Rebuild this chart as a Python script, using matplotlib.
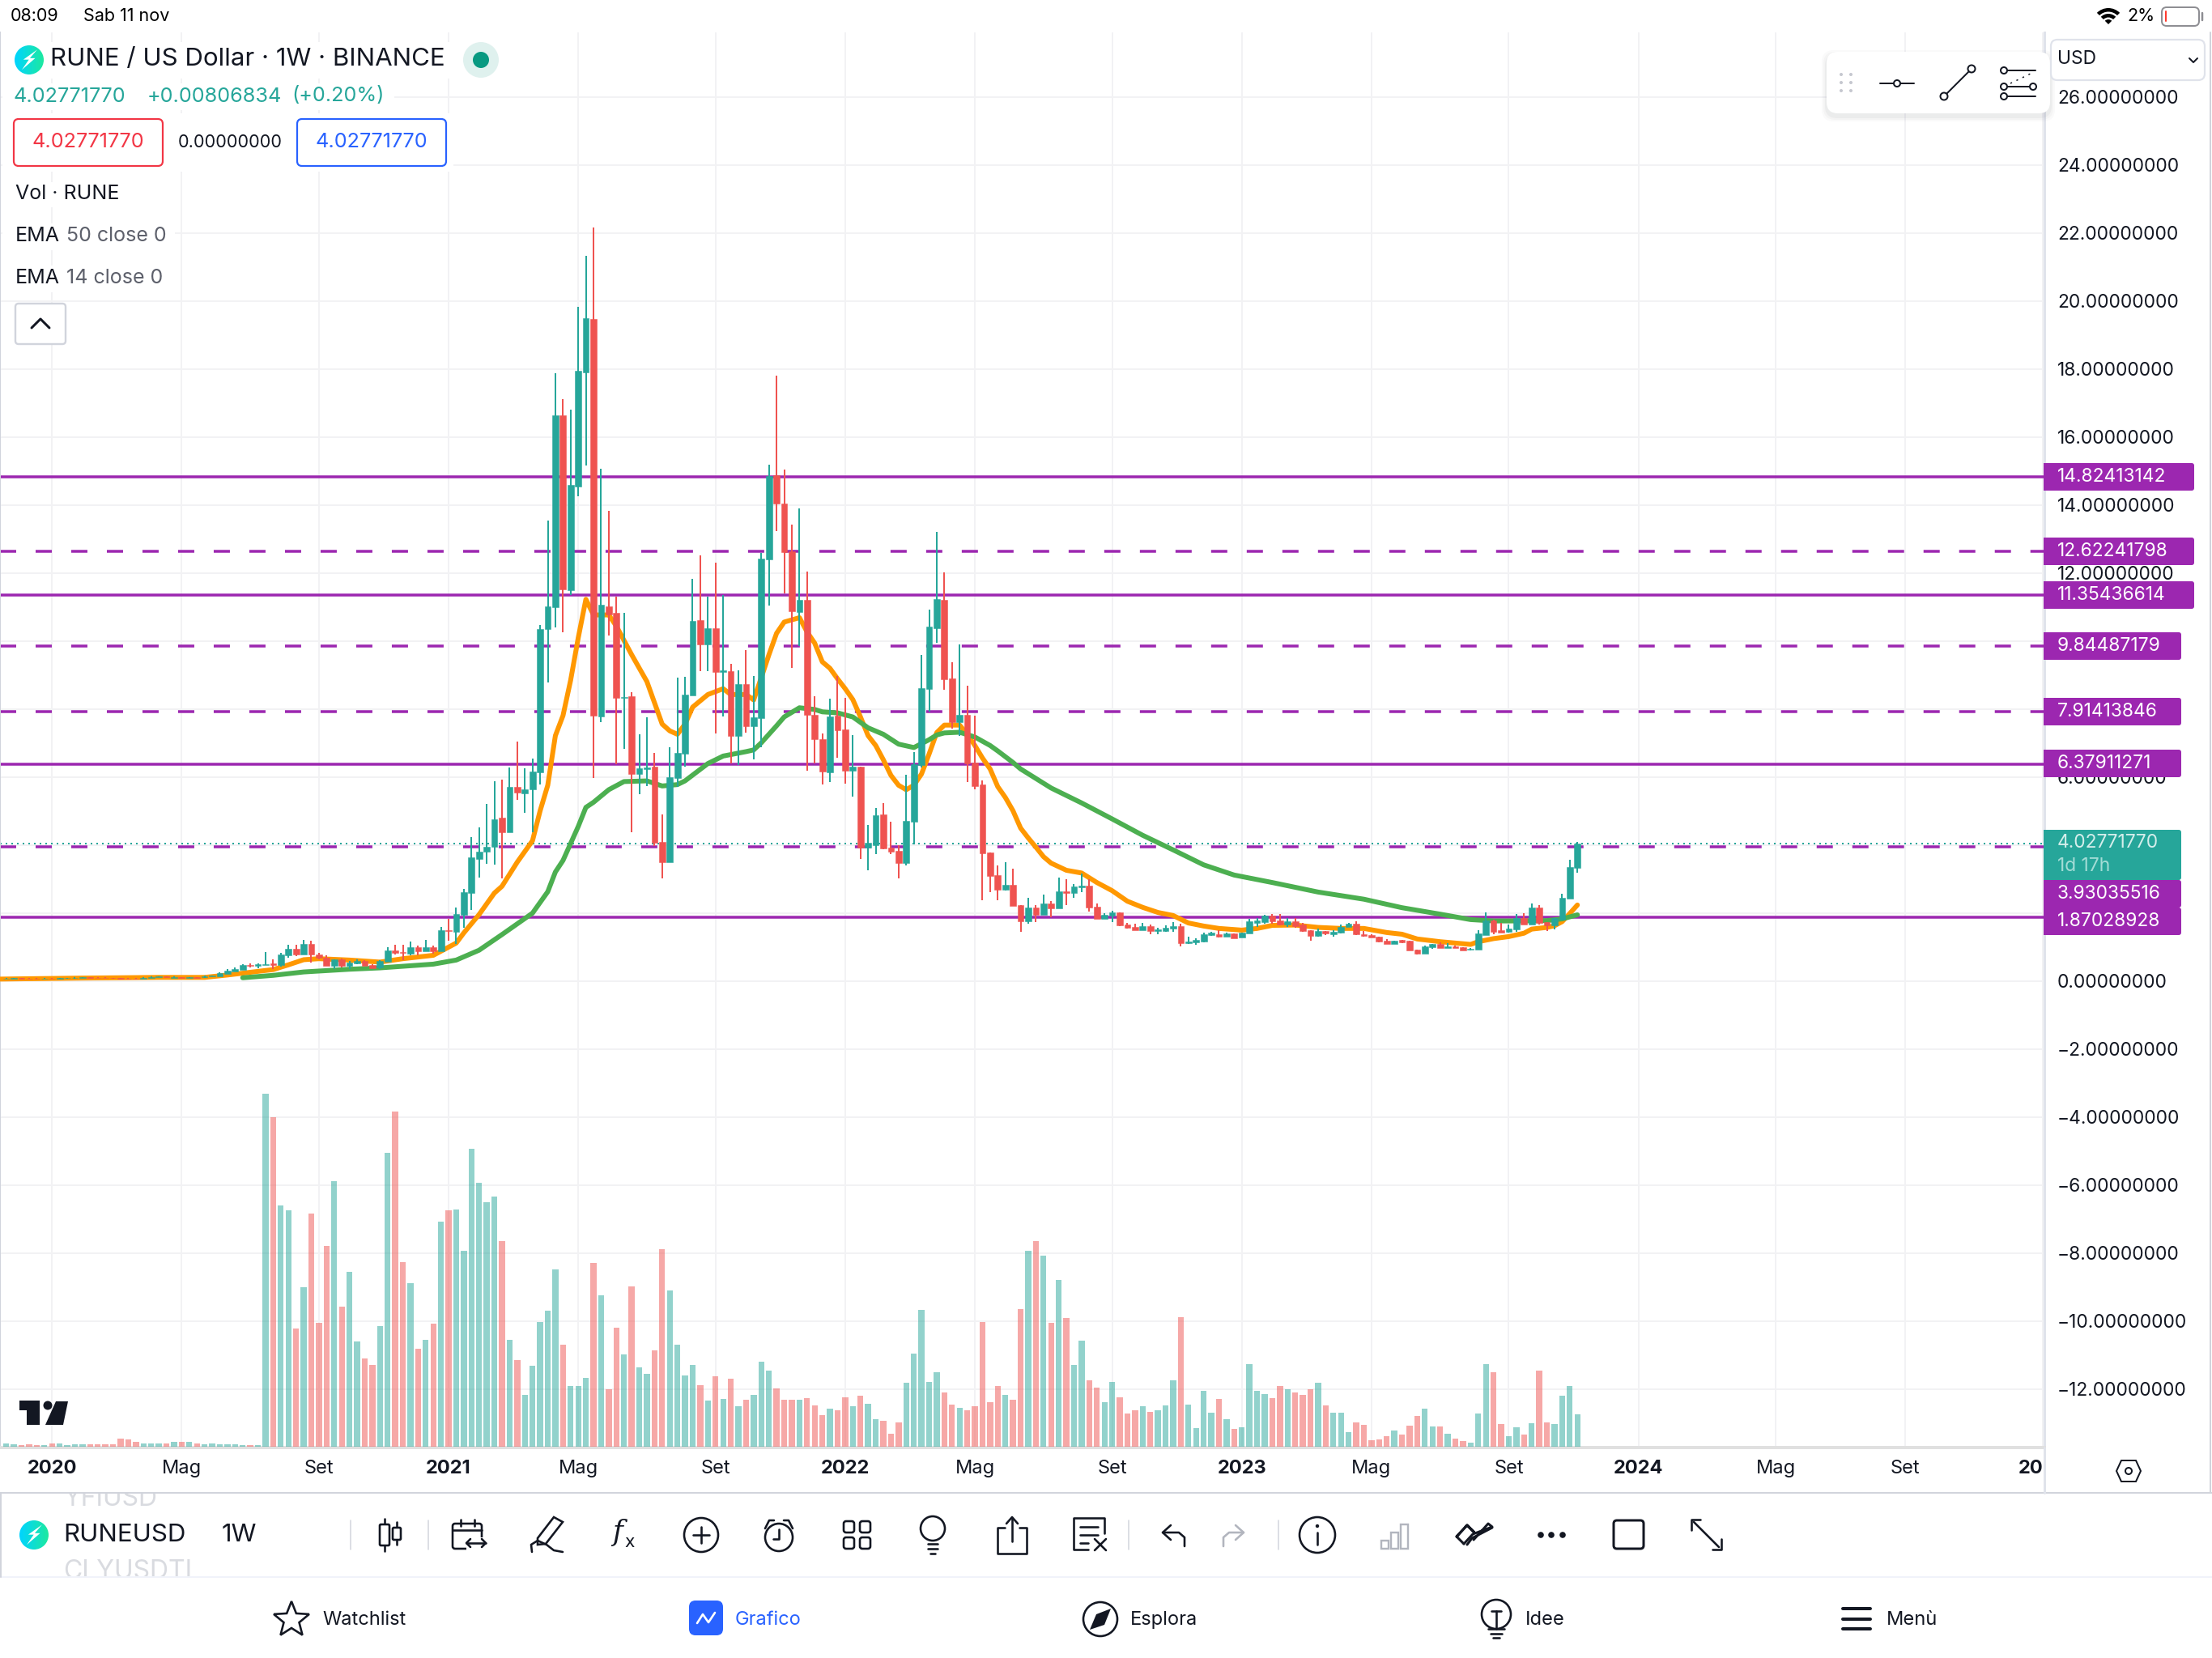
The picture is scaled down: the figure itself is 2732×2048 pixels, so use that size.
import numpy as np
import matplotlib
matplotlib.use('Agg')
import matplotlib.pyplot as plt
from matplotlib.patches import Circle, FancyBboxPatch, Polygon, Rectangle, Wedge, Arc

plt.rcParams['font.family'] = ['Inter', 'DejaVu Sans']

W, H = 2732, 2048

# weekly candles, one row = 10 weeks
opens = [.06,.07,.08,.07,.065,.06,.07,.065,.075,.08,
         .09,.10,.095,.09,.085,.08,.07,.065,.06,.09,
         .11,.12,.08,.11,.08,.11,.10,.13,.14,.21,
         .27,.33,.47,.45,.47,.51,.46,.75,.94,.77,
         1.08,.77,.69,.45,.63,.44,.51,.58,.46,.39,
         .56,.89,.85,.80,.99,.87,.99,.87,1.49,1.44,
         1.94,2.59,3.59,3.79,3.95,4.79,4.36,5.71,5.52,5.62,
         6.14,10.35,10.99,16.63,11.49,14.54,17.89,19.46,7.77,11.01,
         10.82,8.32,8.37,6.08,6.23,6.30,4.08,3.49,5.96,6.68,
         8.39,10.61,9.89,10.37,9.09,9.11,7.20,8.73,7.49,7.73,
         12.39,14.87,14.04,12.63,10.85,11.20,7.82,7.11,6.13,7.80,
         7.39,6.18,6.30,3.92,3.99,4.89,3.92,3.82,3.46,4.68,
         6.35,8.58,10.37,11.20,8.89,7.61,7.82,6.42,5.77,3.77,
         3.11,2.68,2.82,2.23,1.75,2.15,1.94,2.27,2.13,2.63,
         2.58,2.75,2.80,2.18,1.82,1.92,2.01,1.65,1.58,1.49,
         1.61,1.46,1.46,1.54,1.61,1.11,1.13,1.15,1.35,1.37,
         1.30,1.39,1.27,1.39,1.70,1.73,1.92,1.77,1.65,1.75,
         1.65,1.49,1.32,1.46,1.37,1.42,1.58,1.68,1.37,1.34,
         1.30,1.18,1.08,1.20,1.18,.92,.80,.99,1.08,.96,
         1.01,.99,.92,.92,1.35,1.77,1.49,1.44,1.51,1.85,
         1.65,2.15,1.73,1.63,1.80,2.42,3.32]
closes = [.07,.08,.07,.065,.06,.07,.065,.075,.08,.09,
          .10,.095,.09,.085,.08,.07,.065,.06,.09,.11,
          .12,.11,.11,.09,.11,.09,.14,.15,.23,.30,
          .35,.46,.44,.49,.50,.47,.77,.94,.77,1.08,
          .77,.68,.45,.63,.45,.54,.58,.45,.38,.58,
          .89,.82,.81,.99,.87,.99,.87,1.49,1.46,1.96,
          2.61,3.64,3.79,3.95,4.76,4.36,5.71,5.54,5.63,6.16,
          10.35,11.01,16.63,11.51,14.58,17.94,19.49,7.80,11.06,10.77,
          8.32,8.35,6.08,6.25,6.27,4.06,3.49,5.99,6.70,8.42,
          10.58,9.89,10.37,9.08,9.12,7.20,8.73,7.49,7.75,12.42,
          14.85,14.04,12.61,10.87,11.20,7.82,7.11,6.15,7.77,7.37,
          6.18,6.30,3.92,4.06,4.87,3.89,3.80,3.46,4.70,6.37,
          8.61,10.42,11.23,8.87,7.61,7.82,6.39,5.73,3.75,3.08,
          2.68,2.82,2.20,1.75,2.15,1.94,2.27,2.13,2.63,2.58,
          2.77,2.80,2.15,1.82,1.94,2.01,1.63,1.56,1.49,1.61,
          1.46,1.51,1.56,1.61,1.11,1.15,1.20,1.37,1.42,1.30,
          1.39,1.25,1.42,1.75,1.77,1.92,1.75,1.65,1.75,1.61,
          1.46,1.32,1.46,1.39,1.44,1.58,1.68,1.37,1.32,1.27,
          1.15,1.08,1.18,1.13,.89,.80,1.01,1.08,.96,1.01,
          .96,.89,.94,1.39,1.77,1.44,1.42,1.54,1.85,1.65,
          2.15,1.70,1.63,1.85,2.44,3.35,4.0277]
highs = [.08,.09,.09,.08,.075,.08,.08,.085,.09,.10,
         .11,.11,.105,.10,.095,.09,.08,.075,.10,.12,
         .13,.12,.12,.11,.11,.11,.15,.16,.24,.35,
         .39,.49,.52,.51,.85,.63,.82,1.06,1.06,1.20,
         1.18,.82,.74,.63,.66,.58,.63,.61,.49,.61,
         .99,1.06,1.06,1.15,1.04,1.20,1.04,1.58,1.82,2.15,
         2.70,4.23,4.51,5.21,5.88,5.92,6.28,7.04,6.25,6.54,
         10.47,13.54,17.87,17.11,16.80,19.82,21.32,22.15,15.06,13.82,
         11.30,10.82,8.49,7.25,7.75,6.70,4.89,6.87,8.92,8.94,
         11.82,12.51,11.30,12.30,11.35,9.32,9.13,9.73,8.96,12.58,
         15.18,17.80,15.04,13.42,13.89,12.04,8.37,7.27,8.30,8.96,
         8.32,7.23,6.30,4.58,5.08,5.23,4.68,3.99,6.06,6.73,
         9.58,10.92,13.20,12.01,9.37,9.89,8.68,7.80,5.89,3.77,
         3.39,3.49,3.30,2.23,2.44,2.23,2.54,2.35,3.04,2.99,
         2.85,3.15,2.99,2.27,1.99,2.06,2.01,1.70,1.68,1.70,
         1.65,1.56,1.63,1.73,1.68,1.30,1.25,1.42,1.44,1.49,
         1.42,1.39,1.42,1.82,1.85,1.94,1.96,1.96,1.85,1.85,
         1.70,1.49,1.54,1.46,1.49,1.65,1.70,1.75,1.46,1.37,
         1.30,1.23,1.18,1.20,1.18,.92,1.04,1.08,1.13,1.11,
         1.04,.99,.96,1.49,2.01,1.80,1.70,1.65,1.96,1.99,
         2.27,2.23,1.73,1.85,2.56,3.56,4.08]
lows = [.05,.06,.06,.055,.05,.05,.055,.055,.065,.07,
        .08,.085,.08,.075,.07,.06,.055,.05,.05,.08,
        .10,.10,.08,.08,.08,.08,.09,.13,.14,.20,
        .27,.33,.39,.38,.47,.35,.42,.68,.73,.77,
        .54,.63,.45,.35,.39,.35,.49,.44,.37,.35,
        .56,.78,.61,.75,.75,.87,.80,.87,1.18,1.08,
        1.56,2.09,3.04,3.45,3.41,3.01,4.36,5.31,4.95,4.37,
        5.78,8.78,10.39,10.25,11.35,14.25,15.15,5.96,7.61,10.15,
        6.37,6.82,4.37,5.49,5.73,3.96,3.01,3.49,5.70,6.30,
        8.39,9.11,9.11,7.27,7.77,6.39,6.35,7.30,6.51,6.87,
        11.04,13.23,11.39,9.20,9.85,6.17,6.39,5.77,5.85,6.56,
        5.80,5.42,3.58,3.25,3.73,3.87,3.73,3.01,3.39,4.01,
        6.27,7.92,9.94,8.56,7.42,7.20,5.85,5.63,2.37,2.61,
        2.37,2.65,2.20,1.44,1.68,1.73,1.94,1.87,2.13,2.23,
        2.44,2.61,2.04,1.82,1.82,1.73,1.61,1.54,1.49,1.49,
        1.37,1.37,1.44,1.44,1.01,1.08,1.06,1.13,1.32,1.27,
        1.30,1.25,1.27,1.39,1.58,1.68,1.68,1.63,1.58,1.56,
        1.44,1.18,1.30,1.34,1.30,1.39,1.58,1.34,1.30,1.27,
        1.13,1.08,1.08,1.11,.89,.77,.80,.94,.96,.96,
        .96,.89,.89,.92,1.35,1.37,1.42,1.42,1.44,1.65,
        1.65,1.65,1.46,1.51,1.80,2.42,3.18]
# volume pane, arbitrary units (the axis has no scale in the screenshot)
volumes = [4,3,2,3,2,2,4,4,2,3,
           3,3,3,3,3,10,9,6,4,4,
           4,4,6,6,6,4,3,4,3,3,
           3,2,2,2,436,407,298,292,146,197,
           288,153,248,328,173,216,130,109,101,149,
           363,414,228,202,121,132,152,278,292,293,
           242,368,326,302,309,254,132,107,64,100,
           154,168,219,126,75,75,85,227,187,71,
           147,114,198,98,90,119,244,193,126,88,
           101,76,57,87,59,84,50,58,64,105,
           94,72,58,58,58,60,51,39,47,45,
           61,50,63,53,34,32,16,30,79,115,
           169,80,92,67,52,48,45,50,154,55,
           75,64,58,170,242,254,236,153,206,159,
           101,131,82,73,55,80,61,41,45,50,
           43,45,51,82,160,52,23,69,42,59,
           34,22,24,102,69,65,60,75,71,67,
           64,71,79,51,42,42,18,30,27,8,
           9,13,20,15,26,38,47,25,25,16,
           10,7,5,41,102,92,28,13,24,15,
           29,94,30,28,63,75,40]

ema14_idx = [-1,10,20,26,29,35,37,39,41,45,49,52,56,59,60,62,64,65,67,69,70,71,72,73,74,75,76,77,78,79,80,81,82,84,86,87,88,89,90,92,94,95,97,98,99,100,101,102,104,105,106,107,108,109,110,111,112,113,114,115,116,117,118,119,120,121,122,123,125,126,127,128,129,130,131,132,133,134,135,136,137,139,141,143,145,147,149,151,153,155,157,159,162,164,166,169,172,175,178,181,183,185,188,192,193,195,197,199,200,202,203,204,205,206]
ema14_val = [.05,.08,.10,.10,.17,.33,.47,.62,.65,.61,.55,.65,.75,1.11,1.41,1.95,2.58,2.78,3.49,4.12,5.00,5.75,7.21,7.80,8.84,10.09,11.22,10.76,10.76,10.76,10.43,10.01,9.59,8.80,7.55,7.35,7.25,7.55,8.05,8.42,8.59,8.42,8.42,8.26,8.92,9.59,10.22,10.55,10.68,10.26,9.93,9.38,9.19,8.88,8.59,8.27,7.76,7.21,6.92,6.50,6.04,5.75,5.62,5.75,6.08,6.67,7.30,7.52,7.52,7.25,6.92,6.55,6.23,5.71,5.39,5.00,4.49,4.20,3.93,3.65,3.46,3.25,3.17,2.89,2.65,2.34,2.16,2.01,1.92,1.70,1.61,1.54,1.49,1.54,1.63,1.64,1.57,1.54,1.54,1.42,1.37,1.23,1.15,1.07,1.15,1.24,1.30,1.40,1.52,1.57,1.62,1.74,1.98,2.23]
ema50_idx = [31,35,39,45,49,56,59,62,65,69,71,72,73,74,75,76,77,79,81,84,86,88,89,92,94,97,98,99,101,102,104,106,107,109,111,113,115,117,119,121,122,123,125,127,129,130,132,133,137,141,145,149,153,157,161,166,172,178,183,188,192,195,199,202,204,206]
ema50_val = [.09,.16,.26,.34,.38,.49,.61,.90,1.36,1.99,2.62,3.20,3.54,4.04,4.54,5.10,5.25,5.62,5.86,5.88,5.73,5.77,5.88,6.39,6.61,6.74,6.79,7.00,7.50,7.76,8.03,7.98,7.91,7.88,7.76,7.44,7.25,6.96,6.86,7.09,7.23,7.29,7.31,7.17,6.92,6.76,6.42,6.23,5.67,5.23,4.76,4.28,3.85,3.41,3.11,2.89,2.61,2.40,2.15,1.96,1.80,1.76,1.76,1.77,1.82,1.94]

solid_levels = [14.82413142, 11.35436614, 6.37911271, 1.87028928]
dashed_levels = [12.62241798, 9.84487179, 7.91413846, 3.93035516]
last_price = 4.02771770

price_ticks = list(range(-12, 28, 2))
# bars that hold the first of the month
time_ticks = [6,23,41,58,75,93,110,127,145,162,179,197,214,232,249,267]
time_labels = ['2020','Mag','Set','2021','Mag','Set','2022','Mag','Set','2023','Mag','Set','2024','Mag','Set','2025']

GREEN = '#26a69a'
RED = '#ef5350'
PURPLE = '#9c27b0'
INK = '#131722'
GRID = '#f2f2f4'

x = np.arange(len(closes))
o = np.array(opens)
c = np.array(closes)
up = c >= o
colors = [GREEN if u else RED for u in up]

fig = plt.figure(figsize=(W / 100, H / 100), dpi=100, facecolor='white')

px = 0.72  # points per pixel at dpi 100
plot_top, plot_bottom, plot_right = 40, 1788, 2525
pos = [0, (H - plot_bottom) / H, plot_right / W, (plot_bottom - plot_top) / H]

ax = fig.add_axes(pos, zorder=1)
ax.set_xlim(-7.7 / 9.42, (plot_right - 7.7) / 9.42)
ax.set_ylim((1211.5 - plot_bottom) / 42, (1211.5 - plot_top) / 42)
ax.set_axisbelow(True)
ax.grid(True, color=GRID, lw=2 * px)
for s in ['top']:
    ax.spines[s].set_visible(False)
ax.spines['right'].set_color('#e0e3eb')
ax.spines['right'].set_linewidth(3 * px)
ax.spines['bottom'].set_color('#e0e0e0')
ax.spines['bottom'].set_linewidth(4 * px)
ax.spines['left'].set_color('#d1d4dc')
ax.spines['left'].set_linewidth(2 * px)

ax.yaxis.tick_right()
ax.set_yticks(price_ticks)
ax.set_yticklabels([f'{v:.8f}'.replace('-', '\u2212') for v in price_ticks], fontsize=16.4, color=INK)
ax.tick_params(axis='y', length=0, pad=11.5)
ax.set_xticks(time_ticks)
ax.set_xticklabels(time_labels, fontsize=17, color=INK)
ax.tick_params(axis='x', length=0, pad=11)
for lab, name in zip(ax.get_xticklabels(), time_labels):
    if name.isdigit():
        lab.set_fontweight('bold')

for v in solid_levels:
    ax.axhline(v, color=PURPLE, lw=3.5 * px, zorder=2)
for v in dashed_levels:
    ax.axhline(v, color=PURPLE, lw=3.5 * px, zorder=2, linestyle=(0, (5.71, 6.86)))
ax.axhline(last_price, color=GREEN, lw=2 * px, zorder=2.2, linestyle=(0, (1, 2.5)))

ax.plot(ema14_idx, ema14_val, color='#ff9800', lw=6 * px, zorder=3, solid_joinstyle='round', solid_capstyle='round')
ax.plot(ema50_idx, ema50_val, color='#4caf50', lw=6 * px, zorder=3.1, solid_joinstyle='round', solid_capstyle='round')

ax.vlines(x, lows, highs, colors=colors, lw=2 * px, zorder=4)
ax.bar(x, np.abs(c - o), bottom=np.minimum(o, c), width=0.82, color=colors, edgecolor=colors, lw=0.5 * px, zorder=4.1)

axv = fig.add_axes(pos, sharex=ax, zorder=2)
axv.patch.set_alpha(0)
axv.bar(x, volumes, width=0.78, color=colors, alpha=0.5, lw=0)
axv.set_ylim(-1, plot_bottom - plot_top - 1)
axv.axis('off')

# everything below is the app around the chart, in screen pixels
ui = fig.add_axes([0, 0, 1, 1], zorder=10)
ui.patch.set_alpha(0)
ui.axis('off')


def txt(xp, yp, s, size=16.4, color=INK, weight='normal', ha='left', z=6, **kw):
    return ui.text(xp, yp, s, fontsize=size, color=color, fontweight=weight, ha=ha, va='center', zorder=z, **kw)


def rrect(x0, y0, x1, y1, r, fc='white', ec='none', lw=0, z=3, **kw):
    p = FancyBboxPatch((x0, y0), x1 - x0, y1 - y0, boxstyle=f'round,pad=0,rounding_size={r}',
                       fc=fc, ec=ec, lw=lw * px, zorder=z, **kw)
    ui.add_patch(p)
    return p


def rect(x0, y0, x1, y1, fc='white', z=2):
    ui.add_patch(Rectangle((x0, y0), x1 - x0, y1 - y0, fc=fc, ec='none', zorder=z))


def ln(xs, ys, color=INK, lw=2.6, z=6, **kw):
    ui.plot(xs, ys, color=color, lw=lw * px, zorder=z, solid_capstyle='round', solid_joinstyle='round', **kw)


def ring(cx, cy, r, color=INK, lw=2.6, fc='white', z=6):
    ui.add_patch(Circle((cx, cy), r, fc=fc, ec=color, lw=lw * px, zorder=z))


def rune_icon(cx, cy, r):
    t = np.linspace(0, 1, 48)[None, :, None]
    a = np.array([0, 212, 255])[None, None, :] / 255
    b = np.array([29, 233, 160])[None, None, :] / 255
    img = a * (1 - t) + b * t
    im = ui.imshow(img, extent=(cx - r, cx + r, cy + r, cy - r), zorder=5, aspect='auto')
    im.set_clip_path(Circle((cx, cy), r, transform=ui.transData))
    bolt = [(.55, -.7), (-.4, -.02), (-.02, -.02), (-.5, .68), (.42, -.12), (.05, -.12)]
    ui.add_patch(Polygon([(cx + i * r, cy + j * r) for i, j in bolt], fc='white', ec='none', zorder=6))


# status bar
txt(13, 20, '08:09', 15.5, 'black')
txt(103, 20, 'Sab 11 nov', 15.5, 'black')
txt(2627, 20, '2%', 15.5, 'black')
ui.add_patch(Wedge((2604, 30), 20, 225, 315, width=4.5, fc='black', ec='none'))
ui.add_patch(Wedge((2604, 30), 13, 225, 315, width=4.5, fc='black', ec='none'))
ui.add_patch(Wedge((2604, 30), 6, 225, 315, fc='black', ec='none'))
rrect(2670, 9, 2716, 32, 6, ec='#8e8e93', lw=2)
ln([2674.5, 2674.5], [14, 26], '#ff3b30', 2)
ln([2719.5, 2719.5], [16, 25], '#8e8e93', 2.5)

# legend, each row has a white backing that breaks the grid
for box in [(3, 52, 620, 97), (3, 103, 487, 136), (3, 140, 560, 212), (3, 225, 150, 256), (3, 276, 216, 309), (3, 328, 216, 361)]:
    rect(*box)
rune_icon(36, 74, 18)
txt(62, 73, 'RUNE / US Dollar \u00b7 1W \u00b7 BINANCE', 22.5)
ui.add_patch(Circle((594, 74), 22, fc='#dff1ee', ec='none', zorder=5))
ui.add_patch(Circle((594, 74), 10, fc='#089981', ec='none', zorder=6))
txt(17, 119, f'{last_price:.8f}', 18.2, GREEN)
txt(182, 119, '+0.00806834', 18.2, GREEN)
txt(360, 119, '(+0.20%)', 18.2, GREEN)
rrect(17, 147, 201, 205, 6, ec='#f23645', lw=2.2)
txt(109, 176, f'{last_price:.8f}', 18.2, '#f23645', ha='center')
txt(284, 176, '0.00000000', 15.6, INK, ha='center')
rrect(367, 147, 551, 205, 6, ec='#2962ff', lw=2.2)
txt(459, 176, f'{last_price:.8f}', 18.2, '#2962ff', ha='center')
txt(19, 240, 'Vol \u00b7 RUNE', 18)
txt(19, 292, 'EMA', 18)
txt(82, 292, '50 close 0', 18, '#5d606b')
txt(19, 344, 'EMA', 18)
txt(82, 344, '14 close 0', 18, '#5d606b')
rrect(19, 375, 81, 425, 4, ec='#d1d4dc', lw=2.4)
ln([39, 50, 61], [405, 394, 405], INK, 3)

# drawing tools panel
for k, a in [(6, .03), (4, .04), (2, .06)]:
    rrect(2256 - k, 64 + 4 - k, 2532 + k, 140 + 4 + k, 15, fc='#6a6d78', z=2.5, alpha=a)
rrect(2256, 64, 2532, 140, 14, z=3)
for dx in [2274, 2286]:
    for dy in [92, 102, 112]:
        ui.add_patch(Circle((dx, dy), 2, fc='#c5c7cf', ec='none', zorder=6))
ln([2322, 2364], [103, 103], lw=2)
ring(2343, 103, 4, lw=2)
ln([2401, 2435], [119, 85], lw=2)
ring(2401, 119, 4.5, lw=2)
ring(2435, 85, 4.5, lw=2)
ln([2475, 2514], [87, 87], lw=2)
ln([2475, 2511], [107, 107], lw=2)
ln([2475, 2514], [119, 119], lw=2)
ui.plot([2483, 2510], [103, 90], color=INK, lw=1.5 * px, linestyle=(0, (1.5, 4)), zorder=6)
for cx, cy in [(2475, 87), (2475, 107), (2511, 107), (2475, 119)]:
    ring(cx, cy, 4, lw=2)

# currency box
rrect(2533, 49, 2723, 99, 8, ec='#e0e3eb', lw=2.2)
txt(2541, 73, 'USD', 16.4)
ln([2704, 2709, 2714], [72, 77, 72], INK, 2)

# price labels on the scale
big_labels = [(2710, 589, solid_levels[0]), (2710, 681, dashed_levels[0]), (2710, 735, solid_levels[1])]
small_labels = [(2694, 798, dashed_levels[1]), (2694, 879, dashed_levels[2]), (2694, 943, solid_levels[2]),
                (2694, 1104, dashed_levels[3]), (2694, 1138, solid_levels[3])]
for xr, yc, v in big_labels + small_labels:
    rrect(2524, yc - 17, xr, yc + 17, 3, fc=PURPLE, z=4)
    rect(2524, yc - 17, 2530, yc + 17, PURPLE, 4)
    txt(2541, yc, f'{v:.8f}', 16.4, 'white')
rrect(2524, 1025, 2694, 1087, 3, fc=GREEN, z=3.9)
rect(2524, 1025, 2530, 1087, GREEN, 3.9)
txt(2541, 1041, f'{last_price:.8f}', 16.4, '#d4eeeb')
txt(2541, 1070, '1d 17h', 16.4, '#a3dcd6')

# tradingview mark
ui.add_patch(Polygon([(24, 1730), (49, 1730), (49, 1760), (33, 1760), (33, 1742), (24, 1742)], fc=INK, ec='none', zorder=6))
ui.add_patch(Circle((59, 1736), 5.5, fc=INK, ec='none', zorder=6))
ui.add_patch(Polygon([(69, 1731), (84, 1731), (78, 1760), (56, 1760)], fc=INK, ec='none', zorder=6))

# time scale corner
rect(2527, 1790, 2729, 1843, 'white', 1)
ln([2525, 2525], [1788, 1844], '#e0e3eb', 3)
hx = [2614, 2620, 2638, 2644, 2638, 2620]
hy = [1817, 1804, 1804, 1817, 1830, 1830]
ui.add_patch(Polygon(list(zip(hx, hy)), fc='white', ec=INK, lw=2 * px, zorder=6))
ring(2629, 1817, 4, lw=2)

# bars and frame lines
ln([0, W], [1844, 1844], '#d1d4dc', 2, z=5)
ln([0, W], [1948, 1948], '#f0f3fa', 2, z=5)
ln([2730, 2730], [40, 1844], '#d1d4dc', 2, z=5)
ln([1, 1], [1844, 1948], '#d1d4dc', 2, z=5)

# toolbar, the two faded symbols belong to a list scrolled behind it
txt(78, 1851, 'YFIUSD', 23, '#d9dbe0', z=1)
txt(78, 1941, 'CLYUSDTI', 23, '#d9dbe0', z=1)
rect(0, 1790, 2527, 1845, 'none', 1)
rect(236, 1846, 400, 1947, 'white', 1.5)
rect(70, 1949, 400, 1965, 'white', 1.5)
rect(70, 1826, 400, 1845, 'white', 1.5)
rune_icon(42, 1896, 18)
txt(78, 1896, 'RUNEUSD', 22.5)
txt(274, 1896, '1W', 22.5)
for sx in [433, 529, 1394, 1579]:
    ln([sx, sx], [1878, 1914], '#d1d4dc', 1.5)

# chart style
ln([475, 475], [1876, 1916])
rrect(469, 1883, 481, 1909, 1.5, ec=INK, lw=2.6, z=6)
ln([490, 490], [1880, 1908])
rrect(485, 1887, 495, 1902, 1.5, ec=INK, lw=2.6, z=6)
# date range
rrect(559, 1882, 595, 1913, 3, ec=INK, lw=2.6, z=6)
rect(576, 1899, 604, 1916, 'white', 6.1)
ln([559, 595], [1890, 1890], z=6.2)
ln([569, 569], [1877, 1885], z=6.2)
ln([586, 586], [1877, 1885], z=6.2)
ln([576, 600], [1906, 1906], z=6.2)
ln([581, 576, 581], [1901, 1906, 1911], z=6.2)
ln([595, 600, 595], [1901, 1906, 1911], z=6.2)
# pen
ui.add_patch(Polygon([(684, 1874), (695, 1880), (674, 1907), (664, 1908), (664, 1900)], fc='white', ec=INK, lw=2.6 * px, zorder=6))
ln([657, 656, 664, 675, 684, 695], [1917, 1908, 1903, 1908, 1915, 1917])
# fx
txt(756, 1893, 'f', 25, style='italic', family='DejaVu Serif')
txt(771, 1905, 'x', 15, family='DejaVu Sans')
# add
ring(866, 1896, 21)
ln([866, 866], [1886, 1906])
ln([856, 876], [1896, 1896])
# alarm
ring(962, 1899, 17)
ln([962, 962, 955], [1889, 1901, 1901])
ln([945, 950, 956], [1888, 1878, 1878])
ln([979, 974, 968], [1888, 1878, 1878])
# layouts
for gx in [1042, 1062]:
    for gy in [1879, 1899]:
        rrect(gx, gy, gx + 13, gy + 14, 3, ec=INK, lw=2.6, z=6)
# idea
ring(1152, 1888, 15)
ln([1146, 1158], [1907, 1907], z=6.2)
ln([1146, 1158], [1913, 1913], z=6.2)
ln([1149, 1155], [1919, 1919], z=6.2)
# share
ln([1241, 1232, 1232, 1268, 1268, 1259], [1887, 1887, 1919, 1919, 1887, 1887])
ln([1250, 1250], [1875, 1904])
ln([1243, 1250, 1257], [1882, 1874, 1882])
# data table
ln([1364, 1364, 1326, 1326, 1344], [1894, 1875, 1875, 1914, 1914])
ln([1334, 1356], [1886, 1886])
ln([1334, 1356], [1896, 1896])
ln([1334, 1344], [1906, 1906])
ln([1352, 1366], [1901, 1915])
ln([1366, 1352], [1901, 1915])
# undo and redo
ln([1446, 1436, 1446], [1884, 1893, 1902])
ln([1436, 1456, 1463, 1463], [1893, 1893, 1899, 1910])
ln([1526, 1536, 1526], [1884, 1893, 1902], '#b2b5be')
ln([1536, 1518, 1511, 1511], [1893, 1893, 1899, 1910], '#b2b5be')
# info
ring(1627, 1896, 22)
ln([1627, 1627], [1893, 1908])
ui.add_patch(Circle((1627, 1885), 2.2, fc=INK, ec='none', zorder=7))
# bars, grey
for bx, by in [(1706, 1903), (1718, 1893), (1730, 1883)]:
    ui.add_patch(Rectangle((bx, by), 9, 1913 - by, fc='white', ec='#b2b5be', lw=2.4 * px, zorder=6))
# double arrow
ln([1799, 1812, 1821, 1812, 1799, 1808], [1898, 1884, 1893, 1884, 1898, 1907], lw=3)
ln([1808, 1819, 1843, 1838, 1820], [1907, 1895, 1886, 1882, 1902], lw=3)
ln([1812, 1818, 1843], [1908, 1900, 1887], lw=3)
# more
for dx in [1903, 1916, 1930]:
    ui.add_patch(Circle((dx, 1896), 3.8, fc=INK, ec='none', zorder=6))
# layout rectangle
rrect(1993, 1878, 2030, 1913, 4, ec=INK, lw=3, z=6)
# fullscreen
ln([2092, 2123], [1880, 1911])
ln([2089, 2089, 2100], [1890, 1877, 1877])
ln([2126, 2126, 2115], [1901, 1914, 1914])

# bottom tabs
ang = np.deg2rad(np.arange(-90, 270, 36))
star_r = np.where(np.arange(10) % 2 == 0, 23, 10)
ui.add_patch(Polygon(list(zip(360 + star_r * np.cos(ang), 2001 + star_r * np.sin(ang))), fc='white', ec=INK, lw=2.6 * px, zorder=6))
txt(398, 2001, 'Watchlist', 17)
rrect(851, 1977, 893, 2020, 8, fc='#2962ff', z=5)
ln([861, 868, 875, 883], [2005, 1994, 2004, 1992], 'white', 2.6)
txt(908, 2001, 'Grafico', 17, '#2962ff')
ring(1359, 2000, 21)
ui.add_patch(Polygon([(1372, 1987), (1364, 2007), (1346, 2013), (1354, 1994)], fc=INK, ec='none', zorder=7))
txt(1396, 2001, 'Esplora', 17)
ring(1848, 1994, 18)
ln([1842, 1854], [1990, 1990], z=6.2)
ln([1848, 1848], [1990, 2012], z=6.2)
rect(1838, 2012, 1858, 2022, 'white', 6.1)
ln([1838, 1858], [2012, 2012], z=6.2)
ln([1841, 1855], [2018, 2018], z=6.2)
ln([1844, 1852], [2023, 2023], z=6.2)
txt(1884, 2001, 'Idee', 17)
for yb in [1987, 2000, 2012]:
    ln([2276, 2310], [yb, yb], lw=4)
txt(2330, 2001, 'Menù', 17)

ui.set_xlim(0, W)
ui.set_ylim(H, 0)

fig.savefig('out.png', dpi=100, facecolor='white')
